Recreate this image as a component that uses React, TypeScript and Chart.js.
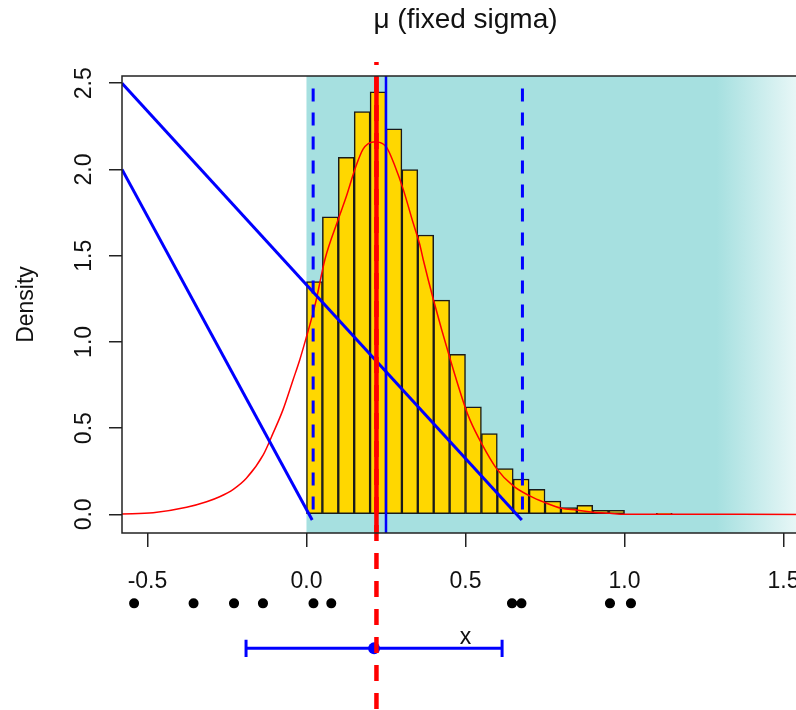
import React, { useEffect, useRef } from "react";
import { Chart, registerables } from "chart.js";

Chart.register(...registerables);

// ---------- data ----------
const titleText = "\u03bc (fixed sigma)";
const yTitle = "Density";
const xTicks = [-0.5, 0, 0.5, 1, 1.5];
const yTicks = [0, 0.5, 1, 1.5, 2, 2.5];
const xRange = [-0.58, 1.58];
const yRange = [-0.108, 2.542];

const binWidth = 0.05;
const histBinLeft = [0, 0.05, 0.1, 0.15, 0.2, 0.25, 0.3, 0.35, 0.4, 0.45, 0.5, 0.55, 0.6, 0.65, 0.7, 0.75, 0.8, 0.85, 0.9, 0.95, 1.1];
const histDensity = [1.35, 1.725, 2.07, 2.335, 2.45, 2.235, 2.0, 1.62, 1.242, 0.928, 0.624, 0.469, 0.265, 0.205, 0.145, 0.077, 0.04, 0.052, 0.023, 0.023, 0.006];

const densityX = [-0.58, -0.482, -0.377, -0.314, -0.273, -0.23, -0.189, -0.136, -0.105, -0.074, -0.042, -0.021, 0.0, 0.021, 0.031, 0.058, 0.1, 0.126, 0.152, 0.178, 0.21, 0.23, 0.252, 0.278, 0.304, 0.335, 0.356, 0.367, 0.399, 0.451, 0.498, 0.514, 0.55, 0.597, 0.65, 0.702, 0.75, 0.802, 0.849, 0.901, 0.954, 1.0, 1.58];
const densityY = [0.002, 0.009, 0.041, 0.073, 0.102, 0.145, 0.209, 0.345, 0.471, 0.606, 0.781, 0.897, 1.03, 1.17, 1.246, 1.478, 1.711, 1.847, 2.0, 2.118, 2.16, 2.157, 2.128, 2.02, 1.886, 1.692, 1.566, 1.478, 1.246, 0.905, 0.626, 0.548, 0.413, 0.267, 0.165, 0.107, 0.068, 0.035, 0.025, 0.012, 0.006, 0.001, 0.0];

// two sloped blue lines: [x0, y0, x1, y1]
const slopeLineA = [-0.58, 2.5, 0.677, -0.033];
const slopeLineB = [-0.58, 2.0, 0.018, -0.033];
// dashed blue verticals
const dashedBlueX = [0.021, 0.679];
const dashedBlueTop = 2.47;
const dashedBlueBottom = -0.033;
// solid blue vertical
const solidBlueX = 0.25;
// red reference (true mu)
const redMuX = 0.22;
const redDashTop = 2.623;
const redDashBottom = -1.134;

// sample points under the axis
const sampleX = [-0.542, -0.355, -0.228, -0.137, 0.022, 0.078, 0.646, 0.676, 0.954, 1.02];
const sampleRowY = -0.516;
// interval
const meanX = 0.2126;
const ciLow = -0.19;
const ciHigh = 0.615;
const ciRowY = -0.777;
const ciCapHalf = 0.05;
const ciLabel = "x";
const ciLabelX = 0.5;
const ciLabelY = -0.717;

// shaded region
const shadeFrom = 0;
const fadeFrom = 1.29;
const fadeTo = 1.63;

const FONT = '"Liberation Sans", Arial, Helvetica, sans-serif';
const TEAL = "#A6E0E0";
const DOT_EPS = 0.0004;

function seg(x0: number, y0: number, x1: number, y1: number) {
  return [{ x: x0, y: y0 }, { x: x1, y: y1 }];
}

// dots drawn as very short round-capped strokes (so they can sit outside the plot area)
function dotPath(xs: number[], y: number) {
  const out: any[] = [];
  xs.forEach((x) => {
    out.push({ x, y }, { x: x + DOT_EPS, y }, { x: x + DOT_EPS, y: null });
  });
  return out;
}

const bgPlugin = {
  id: "bgShade",
  beforeDatasetsDraw(chart: any) {
    const { ctx, chartArea, scales } = chart;
    const xs = scales.x;
    const x0 = xs.getPixelForValue(shadeFrom);
    const x1 = xs.getPixelForValue(fadeFrom);
    const x2 = xs.getPixelForValue(fadeTo);
    ctx.save();
    const g = ctx.createLinearGradient(x0, 0, x2, 0);
    g.addColorStop(0, TEAL);
    g.addColorStop((x1 - x0) / (x2 - x0), TEAL);
    g.addColorStop(1, "#FFFFFF");
    ctx.fillStyle = g;
    ctx.fillRect(x0, chartArea.top, chartArea.right - x0, chartArea.bottom - chartArea.top);
    ctx.restore();
  },
};

const decorPlugin = {
  id: "decor",
  afterDatasetsDraw(chart: any) {
    const { ctx, chartArea, scales } = chart;
    const xs = scales.x;
    const ys = scales.y;
    ctx.save();
    // box
    ctx.strokeStyle = "#222";
    ctx.lineWidth = 1.5;
    ctx.strokeRect(chartArea.left, chartArea.top, chartArea.right - chartArea.left, chartArea.bottom - chartArea.top);
    // rotated y tick labels
    ctx.fillStyle = "#111";
    ctx.font = `23px ${FONT}`;
    ctx.textAlign = "center";
    ctx.textBaseline = "middle";
    for (const v of yTicks) {
      const py = ys.getPixelForValue(v);
      ctx.save();
      ctx.translate(chartArea.left - 37, py);
      ctx.rotate(-Math.PI / 2);
      ctx.fillText(v.toFixed(1), 0, 0);
      ctx.restore();
    }
    // interval label
    ctx.fillText(ciLabel, xs.getPixelForValue(ciLabelX), ys.getPixelForValue(ciLabelY));
    ctx.restore();
  },
};

export default function App() {
  const ref = useRef<HTMLCanvasElement>(null);
  useEffect(() => {
    const base = { pointRadius: 0, pointHoverRadius: 0, pointHitRadius: 0, fill: false, tension: 0, type: "line" as const };
    const datasets: any[] = [
      {
        type: "bar",
        data: histBinLeft.map((l, i) => ({ x: l + binWidth / 2, y: histDensity[i] })),
        backgroundColor: "#FFD700",
        borderColor: "#1a1a1a",
        borderWidth: 1.5,
        borderSkipped: false,
        barPercentage: 1,
        categoryPercentage: 1,
        order: 20,
      },
      {
        ...base,
        data: densityX.map((x, i) => ({ x, y: densityY[i] })),
        borderColor: "#FF0000",
        borderWidth: 1.5,
        cubicInterpolationMode: "monotone",
        order: 19,
      },
      { ...base, data: seg(slopeLineA[0], slopeLineA[1], slopeLineA[2], slopeLineA[3]), borderColor: "#0000FF", borderWidth: 3, order: 18 },
      { ...base, data: seg(slopeLineB[0], slopeLineB[1], slopeLineB[2], slopeLineB[3]), borderColor: "#0000FF", borderWidth: 3, order: 18 },
      ...dashedBlueX.map((dx) => ({
        ...base,
        data: seg(dx, dashedBlueTop, dx, dashedBlueBottom),
        borderColor: "#0000FF",
        borderWidth: 3,
        borderDash: [13, 11],
        borderCapStyle: "butt",
        order: 17,
      })),
      { ...base, data: seg(solidBlueX, yRange[1], solidBlueX, yRange[0]), borderColor: "#0000FF", borderWidth: 2.5, order: 16 },
      { ...base, data: seg(redMuX, yRange[1], redMuX, yRange[0]), borderColor: "#FF0000", borderWidth: 4.5, order: 15 },
      {
        ...base,
        data: dotPath(sampleX, sampleRowY),
        borderColor: "#000000",
        borderWidth: 10,
        borderCapStyle: "round",
        spanGaps: false,
        clip: false,
        order: 10,
      },
      { ...base, data: seg(ciLow, ciRowY, ciHigh, ciRowY), borderColor: "#0000FF", borderWidth: 3, clip: false, order: 9 },
      { ...base, data: seg(ciLow, ciRowY - ciCapHalf, ciLow, ciRowY + ciCapHalf), borderColor: "#0000FF", borderWidth: 3, clip: false, order: 9 },
      { ...base, data: seg(ciHigh, ciRowY - ciCapHalf, ciHigh, ciRowY + ciCapHalf), borderColor: "#0000FF", borderWidth: 3, clip: false, order: 9 },
      {
        ...base,
        data: dotPath([meanX], ciRowY),
        borderColor: "#0000FF",
        borderWidth: 12,
        borderCapStyle: "round",
        spanGaps: false,
        clip: false,
        order: 8,
      },
      {
        ...base,
        data: seg(redMuX, redDashTop, redMuX, redDashBottom),
        borderColor: "#FF0000",
        borderWidth: 4.5,
        borderDash: [16, 12],
        borderDashOffset: 13,
        borderCapStyle: "butt",
        clip: false,
        order: 1,
      },
    ];

    const chart = new Chart(ref.current as HTMLCanvasElement, {
      type: "line",
      data: { datasets },
      options: {
        animation: false,
        responsive: false,
        devicePixelRatio: 1,
        events: [],
        layout: { padding: 0 },
        plugins: {
          legend: { display: false },
          tooltip: { enabled: false },
          title: {
            display: true,
            text: titleText,
            fullSize: false,
            color: "#111",
            font: { family: FONT, size: 28, weight: "normal" },
            padding: { top: 3, bottom: 39.4 },
          },
        },
        scales: {
          x: {
            type: "linear",
            min: xRange[0],
            max: xRange[1],
            offset: false,
            afterBuildTicks: (s: any) => {
              s.ticks = xTicks.map((v) => ({ value: v }));
            },
            afterFit: (s: any) => {
              s.height = 177;
            },
            grid: { display: true, drawOnChartArea: false, drawTicks: true, tickLength: 14, color: "#222", lineWidth: 1.5, offset: false },
            border: { display: false },
            ticks: {
              color: "#111",
              font: { family: FONT, size: 23 },
              padding: 21,
              maxRotation: 0,
              autoSkip: false,
              callback: (v: any) => Number(v).toFixed(1),
            },
          },
          y: {
            type: "linear",
            min: yRange[0],
            max: yRange[1],
            afterBuildTicks: (s: any) => {
              s.ticks = yTicks.map((v) => ({ value: v }));
            },
            afterFit: (s: any) => {
              s.width = 122;
            },
            grid: { display: true, drawOnChartArea: false, drawTicks: true, tickLength: 13, color: "#222", lineWidth: 1.5 },
            border: { display: false },
            ticks: { display: false },
            title: {
              display: true,
              text: yTitle,
              color: "#111",
              font: { family: FONT, size: 23 },
              padding: { top: 13, bottom: 0 },
            },
          },
        },
      },
      plugins: [bgPlugin, decorPlugin],
    } as any);
    return () => chart.destroy();
  }, []);

  return (
    <div style={{ position: "fixed", left: 0, top: 0, width: 796, height: 710, overflow: "hidden", background: "#fff" }}>
      <canvas ref={ref} width={821} height={710} style={{ display: "block", width: 821, height: 710 }} />
    </div>
  );
}
